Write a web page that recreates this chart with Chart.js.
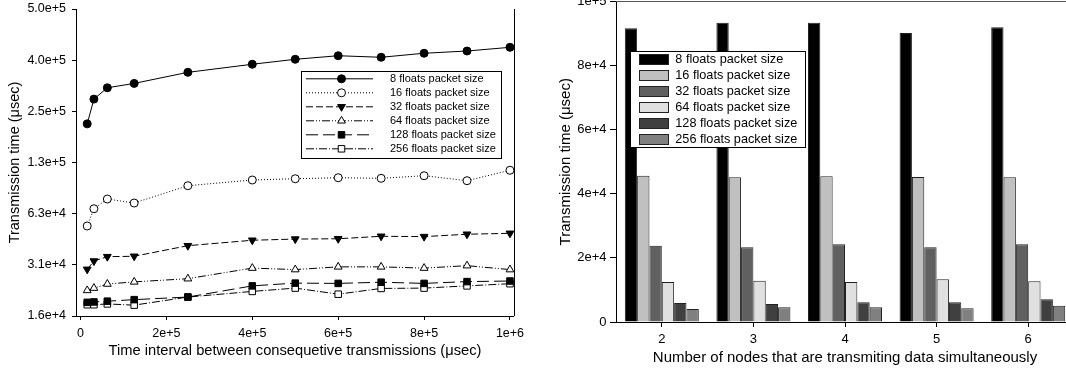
<!DOCTYPE html>
<html><head><meta charset="utf-8">
<script src="https://cdn.jsdelivr.net/npm/chart.js"></script>
<style>
html,body{margin:0;padding:0;width:1066px;height:371px;overflow:hidden;background:#fff;}
#c1{position:absolute;left:0;top:-5px;}
#c2{position:absolute;left:530px;top:-10px;}
</style></head><body>
<canvas id="c1" width="530" height="376"></canvas>
<canvas id="c2" width="554" height="381"></canvas>
<script>
// ---------- Left chart data ----------
const intervals = [15625, 31250, 62500, 125000, 250000, 400000, 500000, 600000, 700000, 800000, 900000, 1000000];
const floats8   = [211000, 295000, 344000, 365000, 424000, 473000, 506000, 531000, 520000, 549000, 566000, 595000];
const floats16  = [52900, 66800, 76200, 72200, 91300, 98600, 100300, 101700, 100900, 104500, 97700, 112500];
const floats32  = [29400, 32900, 34900, 35100, 40500, 43600, 44300, 44500, 46000, 45800, 47300, 47900];
const floats64  = [22100, 22800, 24100, 24800, 25900, 29900, 29300, 30400, 30400, 29900, 30900, 29300];
const floats128 = [18800, 18900, 19100, 19500, 20200, 23500, 24400, 24300, 24700, 24300, 24900, 25100];
const floats256 = [18200, 18200, 18400, 18100, 20200, 21800, 22800, 21000, 22700, 22800, 23500, 24200];
const seriesNames = ["8 floats packet size", "16 floats packet size", "32 floats packet size",
                     "64 floats packet size", "128 floats packet size", "256 floats packet size"];
const xTickValues = [0, 200000, 400000, 600000, 800000, 1000000];
const xTickLabels = ["0", "2e+5", "4e+5", "6e+5", "8e+5", "1e+6"];
const yTickValues = [15625, 31250, 62500, 125000, 250000, 500000, 1000000];
const yTickLabels = ["1.6e+4", "3.1e+4", "6.3e+4", "1.3e+5", "2.5e+5", "4.0e+5", "5.0e+5"];

// ---------- Right chart data ----------
const nodes   = ["2", "3", "4", "5", "6"];
const bar8    = [91640, 93390, 93390, 90170, 91950];
const bar16   = [45650, 45140, 45450, 45240, 45140];
const bar32   = [23810, 23300, 24230, 23300, 24230];
const bar64   = [12480, 12900, 12480, 13320, 12690];
const bar128  = [5930, 5620, 6140, 6140, 7070];
const bar256  = [4060, 4580, 4580, 4270, 5090];
const barYTickValues = [0, 20000, 40000, 60000, 80000, 100000];
const barYTickLabels = ["0", "2e+4", "4e+4", "6e+4", "8e+4", "1e+5"];

const FONT = "'Liberation Sans', Arial, Helvetica, sans-serif";
Chart.defaults.font.family = FONT;
Chart.defaults.color = '#000';

const lineSeries = [floats8, floats16, floats32, floats64, floats128, floats256];
const lineStyles = [
  {ps:'circle',   fill:'#000', dash:[],            r:4,   rot:0},
  {ps:'circle',   fill:'#fff', dash:[1,2],         r:4,   rot:0},
  {ps:'triangle', fill:'#000', dash:[7,3],         r:4.5, rot:180},
  {ps:'triangle', fill:'#fff', dash:[8,2,1,2,1,2], r:4.5, rot:0},
  {ps:'rect',     fill:'#000', dash:[12,5],        r:4.6, rot:0},
  {ps:'rect',     fill:'#fff', dash:[8,2,1,2],     r:4.6, rot:0}
];

function drawMarker(ctx, st, x, y) {
  ctx.save();
  ctx.fillStyle = st.fill; ctx.strokeStyle = '#000'; ctx.lineWidth = 1; ctx.setLineDash([]);
  Chart.helpers.drawPoint(ctx, {pointStyle: st.ps, rotation: st.rot, radius: st.r, borderWidth: 1}, x, y);
  ctx.restore();
}

// canvas 1 is shifted up by 5px: canvas y = page y + 5
const leftExtras = {
  id: 'leftExtras',
  afterDraw(chart) {
    const ctx = chart.ctx, a = chart.chartArea;
    ctx.save();
    ctx.strokeStyle = '#000'; ctx.lineWidth = 1;
    ctx.beginPath(); ctx.moveTo(Math.round(a.right) + 0.5, a.top); ctx.lineTo(Math.round(a.right) + 0.5, a.bottom); ctx.stroke();
    const bx = 301.5, by = 76.5, bw = 200, bh = 87;
    ctx.fillStyle = '#fff'; ctx.fillRect(bx, by, bw, bh);
    ctx.strokeRect(bx, by, bw, bh);
    lineStyles.forEach((st, i) => {
      const y = 83.8 + i * 14;
      ctx.save(); ctx.strokeStyle = '#000'; ctx.lineWidth = 1; ctx.setLineDash(st.dash);
      ctx.beginPath(); ctx.moveTo(306, y); ctx.lineTo(373, y); ctx.stroke(); ctx.restore();
      drawMarker(ctx, st, 341.5, y);
      ctx.fillStyle = '#000'; ctx.font = '11px ' + FONT; ctx.textBaseline = 'middle'; ctx.textAlign = 'left';
      ctx.fillText(seriesNames[i], 390, y);
    });
    ctx.restore();
  }
};

new Chart(document.getElementById('c1'), {
  type: 'line',
  data: {
    datasets: lineSeries.map((vals, i) => ({
      label: seriesNames[i],
      data: intervals.map((x, j) => ({x: x, y: vals[j]})),
      borderColor: '#000', borderWidth: 1, borderDash: lineStyles[i].dash,
      pointStyle: lineStyles[i].ps, pointRotation: lineStyles[i].rot, pointRadius: lineStyles[i].r,
      pointBackgroundColor: lineStyles[i].fill, pointBorderColor: '#000', pointBorderWidth: 1,
      tension: 0, fill: false, clip: false
    }))
  },
  options: {
    responsive: false, animation: false, devicePixelRatio: 1,
    layout: {padding: {left: 0, top: 14, right: 16, bottom: 0}},
    plugins: {legend: {display: false}, tooltip: {enabled: false}},
    scales: {
      x: {
        type: 'linear', min: -10477, max: 1009313,
        afterBuildTicks: s => { s.ticks = xTickValues.map(v => ({value: v})); },
        afterFit: s => { s.height = 55; },
        ticks: {callback: (v, i) => xTickLabels[i], font: {size: 12.5}, padding: 5.8, maxRotation: 0, autoSkip: false, color: '#000'},
        grid: {display: true, drawOnChartArea: false, drawTicks: true, tickLength: 4, color: '#000'},
        border: {display: true, color: '#000', width: 1},
        title: {display: true, text: 'Time interval between consequetive transmissions (\u03bcsec)', font: {size: 14.7}, color: '#000', padding: {top: 0, bottom: 11.3}}
      },
      y: {
        type: 'logarithmic', min: 15625, max: 1000000,
        afterBuildTicks: s => { s.ticks = yTickValues.map(v => ({value: v})); },
        afterFit: s => { s.width = 76; },
        ticks: {callback: (v, i) => yTickLabels[i], font: {size: 12.5}, padding: 6, autoSkip: false, color: '#000'},
        grid: {display: true, drawOnChartArea: false, drawTicks: true, tickLength: 4, color: '#000'},
        border: {display: true, color: '#000', width: 1},
        title: {display: true, text: 'Transmission time (\u03bcsec)', font: {size: 14.5}, color: '#000', padding: {top: 6.3, bottom: 0}}
      }
    }
  },
  plugins: [leftExtras]
});

// ---------- Right chart (canvas shifted: x = page x - 530, y = page y + 10) ----------
const barSeries = [bar8, bar16, bar32, bar64, bar128, bar256];
const barColors = ['#000000', '#c0c0c0', '#606060', '#e0e0e0', '#404040', '#808080'];

const rightExtras = {
  id: 'rightExtras',
  afterDraw(chart) {
    const ctx = chart.ctx, a = chart.chartArea;
    ctx.save();
    ctx.strokeStyle = '#555'; ctx.lineWidth = 1;
    ctx.beginPath(); ctx.moveTo(a.left, a.top); ctx.lineTo(a.right, a.top); ctx.stroke();
    const bx = 100.5, by = 61.5, bw = 175, bh = 96;
    ctx.fillStyle = '#fff'; ctx.fillRect(bx, by, bw, bh);
    ctx.strokeStyle = '#000'; ctx.strokeRect(bx, by, bw, bh);
    barColors.forEach((c, i) => {
      const y = 69 + i * 16.06;
      ctx.fillStyle = c; ctx.fillRect(109.5, Math.round(y - 5) + 0.5, 29, 10);
      ctx.strokeStyle = '#222'; ctx.strokeRect(109.5, Math.round(y - 5) + 0.5, 29, 10);
      ctx.fillStyle = '#000'; ctx.font = '12.7px ' + FONT; ctx.textBaseline = 'middle'; ctx.textAlign = 'left';
      ctx.fillText(seriesNames[i], 145.3, y);
    });
    ctx.restore();
  }
};

new Chart(document.getElementById('c2'), {
  type: 'bar',
  data: {
    labels: nodes,
    datasets: barSeries.map((vals, i) => ({
      label: seriesNames[i], data: vals,
      backgroundColor: barColors[i], borderColor: '#222', borderWidth: 1,
      categoryPercentage: 0.808, barPercentage: 1.0
    }))
  },
  options: {
    responsive: false, animation: false, devicePixelRatio: 1,
    layout: {padding: {left: 0, top: 11.5, right: 10, bottom: 0}},
    plugins: {legend: {display: false}, tooltip: {enabled: false}},
    scales: {
      x: {
        type: 'category', offset: true,
        afterFit: s => { s.height = 49; },
        ticks: {font: {size: 13}, padding: 4.2, maxRotation: 0, color: '#000'},
        grid: {display: true, offset: false, drawOnChartArea: false, drawTicks: true, tickLength: 5, color: '#000'},
        border: {display: true, color: '#000', width: 1},
        title: {display: true, text: 'Number of nodes that are transmiting data simultaneously', font: {size: 15}, color: '#000', padding: {top: 0, bottom: 4}}
      },
      y: {
        type: 'linear', min: 0, max: 100000,
        afterBuildTicks: s => { s.ticks = barYTickValues.map(v => ({value: v})); },
        afterFit: s => { s.width = 86; },
        ticks: {callback: (v, i) => barYTickLabels[i], font: {size: 13}, padding: 3.5, autoSkip: false, color: '#000'},
        grid: {display: true, drawOnChartArea: false, drawTicks: true, tickLength: 6, color: '#000'},
        border: {display: true, color: '#000', width: 1},
        title: {display: true, text: 'Transmission time (\u03bcsec)', font: {size: 15}, color: '#000', padding: {top: 27, bottom: 0}}
      }
    }
  },
  plugins: [rightExtras]
});
</script>
</body></html>
